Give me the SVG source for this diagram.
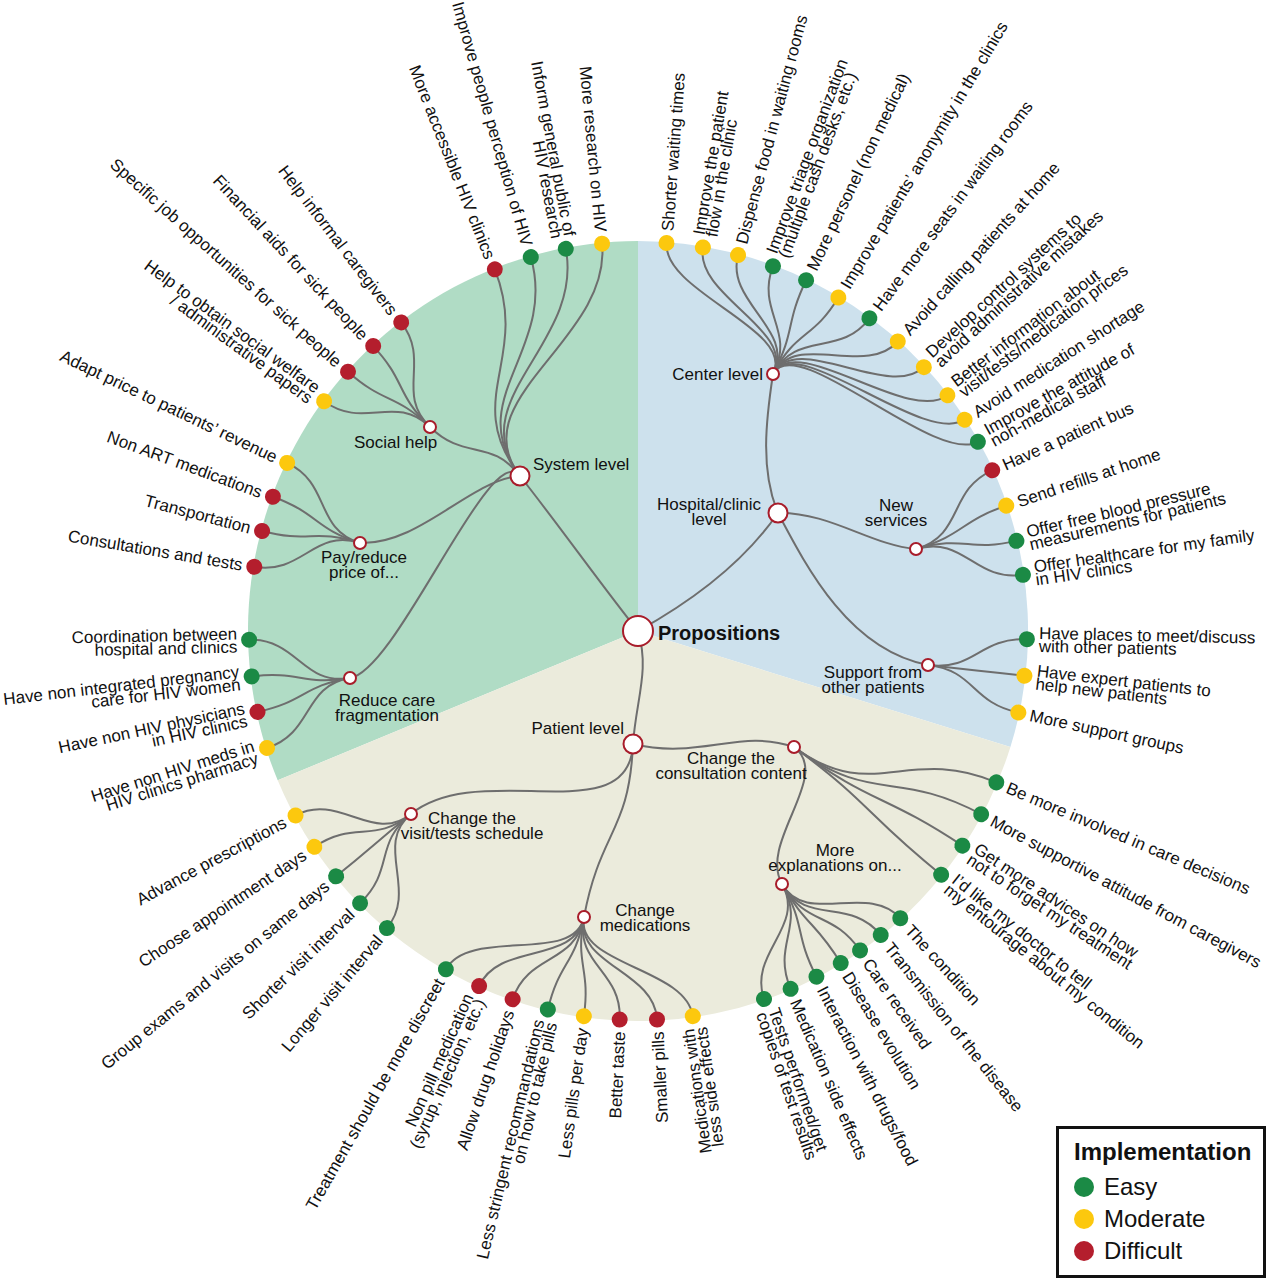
<svg xmlns="http://www.w3.org/2000/svg" width="1267" height="1280" viewBox="0 0 1267 1280">
<style>
text{font-family:"Liberation Sans",Arial,Helvetica,sans-serif;fill:#111}
.lf{font-size:17px}
.e{text-anchor:end}
.m{text-anchor:middle;font-size:17px}
.s{font-size:17px}
.g{fill:#1b8a45}
.y{fill:#fcc80e}
.r{fill:#b41e2d}
.hn{fill:#fff;stroke:#a81c2a;stroke-width:2}
#connectors path{fill:none;stroke:#6e6e6e;stroke-width:2}
</style>
<rect width="1267" height="1280" fill="#fff"/>
<g id="sectors">
<path d="M638,631 L638,241 A390,390 0 0,0 277.7,780.3 Z" fill="#b0dcc5"/>
<path d="M638,631 L638,241 A390,390 0 0,1 1010.4,747 Z" fill="#cde1ed"/>
<path d="M638,631 L1010.4,747 A390,390 0 0,1 277.7,780.3 Z" fill="#ebebdc"/>
</g>
<g id="connectors">
<path d="M638,631 C605,590 555,520 520,476"/>
<path d="M638,631 C685,605 742,565 778,513"/>
<path d="M638,631 C650,670 636,700 633,744"/>
<path d="M520,476 C490.7,437.7 464.4,461 430,427"/>
<path d="M520,476 C470,480 420,545 360,543"/>
<path d="M520,476 C490.5,437.4 397.8,670.3 350,678"/>
<path d="M778,513 C760,470 766,420 773,374"/>
<path d="M778,513 C830,512 870,545 916,549"/>
<path d="M778,513 C808,570 850,650 928,665"/>
<path d="M633,744 C700,760 740,728 794,747"/>
<path d="M633,744 C629.2,833.1 480.6,758 411,814"/>
<path d="M633,744 C629.2,832.8 600.5,829.5 584,917"/>
<path d="M794,747 C832.8,775.7 758.1,841.9 782,884"/>
<path d="M520,476 C461,398.7 611,340.3 602.1,243.7"/>
<path d="M520,476 C461,398.7 583.8,344.1 565.8,248.8"/>
<path d="M520,476 C461,398.7 557.5,350.3 530.8,257.1"/>
<path d="M520,476 C461,398.7 530.5,359.5 494.8,269.3"/>
<path d="M430,427 C395.1,393.1 431,361.2 401.2,322.4"/>
<path d="M430,427 C395.1,393.1 406.6,381.9 373.2,346.1"/>
<path d="M430,427 C395.1,393.1 384.5,404.4 348,371.7"/>
<path d="M430,427 C395.1,393.1 363.6,430.2 324.1,401.3"/>
<path d="M360,543 C313.9,528.2 331.4,484.1 287.2,462.9"/>
<path d="M360,543 C313.9,528.2 318.9,513.6 272.9,496.7"/>
<path d="M360,543 C313.9,528.2 309.4,543.6 262.1,531"/>
<path d="M360,543 C313.9,528.2 302.7,574.9 254.3,566.8"/>
<path d="M350,678 C302.5,685.9 298.1,638.7 249.1,639.8"/>
<path d="M350,678 C302.5,685.9 300.3,670.7 251.6,676.4"/>
<path d="M350,678 C302.5,685.9 305.4,701.7 257.5,711.9"/>
<path d="M350,678 C302.5,685.9 313.7,733.2 267,748"/>
<path d="M773,374 C796,330 662.9,291.9 666.5,243.1"/>
<path d="M773,374 C796,330 694.7,295.8 702.9,247.4"/>
<path d="M773,374 C796,330 725.4,302.4 738,255.1"/>
<path d="M773,374 C796,330 755.9,312.1 772.9,266.2"/>
<path d="M773,374 C796,330 784.9,324.4 806.1,280.2"/>
<path d="M773,374 C796,330 813.1,339.6 838.3,297.5"/>
<path d="M773,374 C796,330 840.2,357.7 869.4,318.3"/>
<path d="M773,374 C796,330 865,377.9 897.8,341.5"/>
<path d="M773,374 C796,330 887.9,400.4 923.9,367.2"/>
<path d="M773,374 C796,330 908.5,425 947.5,395.3"/>
<path d="M773,374 C796,330 923.5,446.3 964.6,419.7"/>
<path d="M773,374 C796,330 935.1,465.7 977.9,441.8"/>
<path d="M916,549 C964.2,535 947.6,490.5 992.3,470.3"/>
<path d="M916,549 C964.2,535 959.8,521.4 1006.2,505.6"/>
<path d="M916,549 C964.2,535 968.8,552.2 1016.4,540.9"/>
<path d="M916,549 C964.2,535 974.4,581.9 1022.9,574.8"/>
<path d="M928,665 C975.7,670.7 977.9,638.1 1026.9,639.1"/>
<path d="M928,665 C975.7,670.7 975.8,670.1 1024.4,675.7"/>
<path d="M928,665 C975.7,670.7 970.5,702.3 1018.4,712.5"/>
<path d="M794,747 C872.4,805.1 907,744.6 996.3,782.4"/>
<path d="M794,747 C872.4,805.1 895.6,768.5 981.1,814.2"/>
<path d="M794,747 C872.4,805.1 881.5,792.2 962.4,845.7"/>
<path d="M794,747 C872.4,805.1 865.6,814 941.1,874.7"/>
<path d="M782,884 C806.2,926.5 867.3,882.1 900.3,918.2"/>
<path d="M782,884 C806.2,926.5 850.1,896.7 880.7,935"/>
<path d="M782,884 C806.2,926.5 832,910.2 860,950.4"/>
<path d="M782,884 C806.2,926.5 815.1,921.2 840.7,963"/>
<path d="M782,884 C806.2,926.5 794,933.1 816.4,976.7"/>
<path d="M782,884 C806.2,926.5 771.4,943.7 790.6,988.8"/>
<path d="M782,884 C806.2,926.5 748.1,952.7 764,999"/>
<path d="M584,917 C574.9,965.1 685.9,967.6 692.8,1016.1"/>
<path d="M584,917 C574.9,965.1 654.6,970.6 657,1019.5"/>
<path d="M584,917 C574.9,965.1 622,970.6 619.7,1019.6"/>
<path d="M584,917 C574.9,965.1 590.7,967.7 583.9,1016.2"/>
<path d="M584,917 C574.9,965.1 559.2,961.8 547.9,1009.4"/>
<path d="M584,917 C574.9,965.1 528.4,952.8 512.6,999.2"/>
<path d="M584,917 C574.9,965.1 499.2,941.4 479.2,986.1"/>
<path d="M584,917 C574.9,965.1 470.1,926.6 445.9,969.2"/>
<path d="M411,814 C373.4,844.5 418.5,890.7 386.9,928.1"/>
<path d="M411,814 C373.4,844.5 395.1,868.9 360.1,903.2"/>
<path d="M411,814 C373.4,844.5 374.2,845.4 336.1,876.3"/>
<path d="M411,814 C373.4,844.5 355.1,819.6 314.4,846.8"/>
<path d="M411,814 C373.4,844.5 338.6,792.2 295.5,815.4"/>
</g>
<g id="hubs">
<g id="propositions"><circle class="hn" cx="638" cy="631" r="15" stroke-width="2.5"/><text x="658" y="640" font-size="20" font-weight="bold">Propositions</text></g>
<g id="system-level"><circle class="hn" cx="520" cy="476" r="9.5"/><text class="s" x="533" y="470">System level</text></g>
<g id="social-help"><circle class="hn" cx="430" cy="427" r="6"/><text class="s" x="354" y="448">Social help</text></g>
<g id="pay-reduce"><circle class="hn" cx="360" cy="543" r="6"/><text class="m"><tspan x="364" y="563">Pay/reduce</tspan><tspan x="364" y="578">price of...</tspan></text></g>
<g id="reduce-fragmentation"><circle class="hn" cx="350" cy="678" r="6"/><text class="m"><tspan x="387" y="706">Reduce care</tspan><tspan x="387" y="721">fragmentation</tspan></text></g>
<g id="hospital-level"><circle class="hn" cx="778" cy="513" r="9.5"/><text class="m"><tspan x="709" y="510">Hospital/clinic</tspan><tspan x="709" y="525">level</tspan></text></g>
<g id="center-level"><circle class="hn" cx="773" cy="374" r="6"/><text class="s e" x="763" y="380">Center level</text></g>
<g id="new-services"><circle class="hn" cx="916" cy="549" r="6"/><text class="m"><tspan x="896" y="511">New</tspan><tspan x="896" y="526">services</tspan></text></g>
<g id="support"><circle class="hn" cx="928" cy="665" r="6"/><text class="m"><tspan x="873" y="678">Support from</tspan><tspan x="873" y="693">other patients</tspan></text></g>
<g id="patient-level"><circle class="hn" cx="633" cy="744" r="9.5"/><text class="s e" x="624" y="734">Patient level</text></g>
<g id="consultation"><circle class="hn" cx="794" cy="747" r="6"/><text class="m"><tspan x="731" y="764">Change the</tspan><tspan x="731" y="779">consultation content</tspan></text></g>
<g id="explanations"><circle class="hn" cx="782" cy="884" r="6"/><text class="m"><tspan x="835" y="856">More</tspan><tspan x="835" y="871">explanations on...</tspan></text></g>
<g id="medications"><circle class="hn" cx="584" cy="917" r="6"/><text class="m"><tspan x="645" y="916">Change</tspan><tspan x="645" y="931">medications</tspan></text></g>
<g id="schedule"><circle class="hn" cx="411" cy="814" r="6"/><text class="m"><tspan x="472" y="824">Change the</tspan><tspan x="472" y="839">visit/tests schedule</tspan></text></g>
</g>
<g id="leaves">
<g id="n1" transform="rotate(84.7 638 631)"><circle class="y" cx="249" cy="631" r="8"/><text class="lf e" x="237" y="637">More research on HIV</text></g>
<g id="n2" transform="rotate(79.3 638 631)"><circle class="g" cx="249" cy="631" r="8"/><text class="lf e"><tspan x="237" y="630.5">Inform general public of</tspan><tspan x="237" y="643.5">HIV research</tspan></text></g>
<g id="n3" transform="rotate(74 638 631)"><circle class="g" cx="249" cy="631" r="8"/><text class="lf e" x="237" y="637">Improve people perception of HIV</text></g>
<g id="n4" transform="rotate(68.4 638 631)"><circle class="r" cx="249" cy="631" r="8"/><text class="lf e" x="237" y="637">More accessible HIV clinics</text></g>
<g id="n5" transform="rotate(52.5 638 631)"><circle class="r" cx="249" cy="631" r="8"/><text class="lf e" x="237" y="637">Help informal caregivers</text></g>
<g id="n6" transform="rotate(47.1 638 631)"><circle class="r" cx="249" cy="631" r="8"/><text class="lf e" x="237" y="637">Financial aids for sick people</text></g>
<g id="n7" transform="rotate(41.8 638 631)"><circle class="r" cx="249" cy="631" r="8"/><text class="lf e" x="237" y="637">Specific job opportunities for sick people</text></g>
<g id="n8" transform="rotate(36.2 638 631)"><circle class="y" cx="249" cy="631" r="8"/><text class="lf e"><tspan x="237" y="630.5">Help to obtain social welfare</tspan><tspan x="237" y="643.5">/ administrative papers</tspan></text></g>
<g id="n9" transform="rotate(25.6 638 631)"><circle class="y" cx="249" cy="631" r="8"/><text class="lf e" x="237" y="637">Adapt price to patients’ revenue</text></g>
<g id="n10" transform="rotate(20.2 638 631)"><circle class="r" cx="249" cy="631" r="8"/><text class="lf e" x="237" y="637">Non ART medications</text></g>
<g id="n11" transform="rotate(14.9 638 631)"><circle class="r" cx="249" cy="631" r="8"/><text class="lf e" x="237" y="637">Transportation</text></g>
<g id="n12" transform="rotate(9.5 638 631)"><circle class="r" cx="249" cy="631" r="8"/><text class="lf e" x="237" y="637">Consultations and tests</text></g>
<g id="n13" transform="rotate(-1.3 638 631)"><circle class="g" cx="249" cy="631" r="8"/><text class="lf e"><tspan x="237" y="630.5">Coordination between</tspan><tspan x="237" y="643.5">hospital and clinics</tspan></text></g>
<g id="n14" transform="rotate(-6.7 638 631)"><circle class="g" cx="249" cy="631" r="8"/><text class="lf e"><tspan x="237" y="630.5">Have non integrated pregnancy</tspan><tspan x="237" y="643.5">care for HIV women</tspan></text></g>
<g id="n15" transform="rotate(-12 638 631)"><circle class="r" cx="249" cy="631" r="8"/><text class="lf e"><tspan x="237" y="630.5">Have non HIV physicians</tspan><tspan x="237" y="643.5">in HIV clinics</tspan></text></g>
<g id="n16" transform="rotate(-17.5 638 631)"><circle class="y" cx="249" cy="631" r="8"/><text class="lf e"><tspan x="237" y="630.5">Have non HIV meds in</tspan><tspan x="237" y="643.5">HIV clinics pharmacy</tspan></text></g>
<g id="n17" transform="rotate(-85.8 638 631)"><circle class="y" cx="1027" cy="631" r="8"/><text class="lf" x="1039" y="637">Shorter waiting times</text></g>
<g id="n18" transform="rotate(-80.4 638 631)"><circle class="y" cx="1027" cy="631" r="8"/><text class="lf"><tspan x="1039" y="630.5">Improve the patient</tspan><tspan x="1039" y="643.5">flow in the clinic</tspan></text></g>
<g id="n19" transform="rotate(-75.1 638 631)"><circle class="y" cx="1027" cy="631" r="8"/><text class="lf" x="1039" y="637">Dispense food in waiting rooms</text></g>
<g id="n20" transform="rotate(-69.7 638 631)"><circle class="g" cx="1027" cy="631" r="8"/><text class="lf"><tspan x="1039" y="630.5">Improve triage organization</tspan><tspan x="1039" y="643.5">(multiple cash desks, etc.)</tspan></text></g>
<g id="n21" transform="rotate(-64.4 638 631)"><circle class="g" cx="1027" cy="631" r="8"/><text class="lf" x="1039" y="637">More personel (non medical)</text></g>
<g id="n22" transform="rotate(-59 638 631)"><circle class="y" cx="1027" cy="631" r="8"/><text class="lf" x="1039" y="637">Improve patients’ anonymity in the clinics</text></g>
<g id="n23" transform="rotate(-53.5 638 631)"><circle class="g" cx="1027" cy="631" r="8"/><text class="lf" x="1039" y="637">Have more seats in waiting rooms</text></g>
<g id="n24" transform="rotate(-48.1 638 631)"><circle class="y" cx="1027" cy="631" r="8"/><text class="lf" x="1039" y="637">Avoid calling patients at home</text></g>
<g id="n25" transform="rotate(-42.7 638 631)"><circle class="y" cx="1027" cy="631" r="8"/><text class="lf"><tspan x="1039" y="630.5">Develop control systems to</tspan><tspan x="1039" y="643.5">avoid administrative mistakes</tspan></text></g>
<g id="n26" transform="rotate(-37.3 638 631)"><circle class="y" cx="1027" cy="631" r="8"/><text class="lf"><tspan x="1039" y="630.5">Better information about</tspan><tspan x="1039" y="643.5">visit/tests/medication prices</tspan></text></g>
<g id="n27" transform="rotate(-32.9 638 631)"><circle class="y" cx="1027" cy="631" r="8"/><text class="lf" x="1039" y="637">Avoid medication shortage</text></g>
<g id="n28" transform="rotate(-29.1 638 631)"><circle class="g" cx="1027" cy="631" r="8"/><text class="lf"><tspan x="1039" y="630.5">Improve the attitude of</tspan><tspan x="1039" y="643.5">non-medical staff</tspan></text></g>
<g id="n29" transform="rotate(-24.4 638 631)"><circle class="r" cx="1027" cy="631" r="8"/><text class="lf" x="1039" y="637">Have a patient bus</text></g>
<g id="n30" transform="rotate(-18.8 638 631)"><circle class="y" cx="1027" cy="631" r="8"/><text class="lf" x="1039" y="637">Send refills at home</text></g>
<g id="n31" transform="rotate(-13.4 638 631)"><circle class="g" cx="1027" cy="631" r="8"/><text class="lf"><tspan x="1039" y="630.5">Offer free blood pressure</tspan><tspan x="1039" y="643.5">measurements for patients</tspan></text></g>
<g id="n32" transform="rotate(-8.3 638 631)"><circle class="g" cx="1027" cy="631" r="8"/><text class="lf"><tspan x="1039" y="630.5">Offer healthcare for my family</tspan><tspan x="1039" y="643.5">in HIV clinics</tspan></text></g>
<g id="n33" transform="rotate(1.2 638 631)"><circle class="g" cx="1027" cy="631" r="8"/><text class="lf"><tspan x="1039" y="630.5">Have places to meet/discuss</tspan><tspan x="1039" y="643.5">with other patients</tspan></text></g>
<g id="n34" transform="rotate(6.6 638 631)"><circle class="y" cx="1027" cy="631" r="8"/><text class="lf"><tspan x="1039" y="630.5">Have expert patients to</tspan><tspan x="1039" y="643.5">help new patients</tspan></text></g>
<g id="n35" transform="rotate(12.1 638 631)"><circle class="y" cx="1027" cy="631" r="8"/><text class="lf" x="1039" y="637">More support groups</text></g>
<g id="n36" transform="rotate(22.9 638 631)"><circle class="g" cx="1027" cy="631" r="8"/><text class="lf" x="1039" y="637">Be more involved in care decisions</text></g>
<g id="n37" transform="rotate(28.1 638 631)"><circle class="g" cx="1027" cy="631" r="8"/><text class="lf" x="1039" y="637">More supportive attitude from caregivers</text></g>
<g id="n38" transform="rotate(33.5 638 631)"><circle class="g" cx="1027" cy="631" r="8"/><text class="lf"><tspan x="1039" y="630.5">Get more advices on how</tspan><tspan x="1039" y="643.5">not to forget my treatment</tspan></text></g>
<g id="n39" transform="rotate(38.8 638 631)"><circle class="g" cx="1027" cy="631" r="8"/><text class="lf"><tspan x="1039" y="630.5">I’d like my doctor to tell</tspan><tspan x="1039" y="643.5">my entourage about my condition</tspan></text></g>
<g id="n40" transform="rotate(47.6 638 631)"><circle class="g" cx="1027" cy="631" r="8"/><text class="lf" x="1039" y="637">The condition</text></g>
<g id="n41" transform="rotate(51.4 638 631)"><circle class="g" cx="1027" cy="631" r="8"/><text class="lf" x="1039" y="637">Transmission of the disease</text></g>
<g id="n42" transform="rotate(55.2 638 631)"><circle class="g" cx="1027" cy="631" r="8"/><text class="lf" x="1039" y="637">Care received</text></g>
<g id="n43" transform="rotate(58.6 638 631)"><circle class="g" cx="1027" cy="631" r="8"/><text class="lf" x="1039" y="637">Disease evolution</text></g>
<g id="n44" transform="rotate(62.7 638 631)"><circle class="g" cx="1027" cy="631" r="8"/><text class="lf" x="1039" y="637">Interaction with drugs/food</text></g>
<g id="n45" transform="rotate(66.9 638 631)"><circle class="g" cx="1027" cy="631" r="8"/><text class="lf" x="1039" y="637">Medication side effects</text></g>
<g id="n46" transform="rotate(71.1 638 631)"><circle class="g" cx="1027" cy="631" r="8"/><text class="lf"><tspan x="1039" y="630.5">Tests performed/get</tspan><tspan x="1039" y="643.5">copies of test results</tspan></text></g>
<g id="n47" transform="rotate(-98.1 638 631)"><circle class="y" cx="249" cy="631" r="8"/><text class="lf e"><tspan x="237" y="630.5">Medications with</tspan><tspan x="237" y="643.5">less side effects</tspan></text></g>
<g id="n48" transform="rotate(-92.8 638 631)"><circle class="r" cx="249" cy="631" r="8"/><text class="lf e" x="237" y="637">Smaller pills</text></g>
<g id="n49" transform="rotate(-87.3 638 631)"><circle class="r" cx="249" cy="631" r="8"/><text class="lf e" x="237" y="637">Better taste</text></g>
<g id="n50" transform="rotate(-82 638 631)"><circle class="y" cx="249" cy="631" r="8"/><text class="lf e" x="237" y="637">Less pills per day</text></g>
<g id="n51" transform="rotate(-76.6 638 631)"><circle class="g" cx="249" cy="631" r="8"/><text class="lf e"><tspan x="237" y="630.5">Less stringent recommandations</tspan><tspan x="237" y="643.5">on how to take pills</tspan></text></g>
<g id="n52" transform="rotate(-71.2 638 631)"><circle class="r" cx="249" cy="631" r="8"/><text class="lf e" x="237" y="637">Allow drug holidays</text></g>
<g id="n53" transform="rotate(-65.9 638 631)"><circle class="r" cx="249" cy="631" r="8"/><text class="lf e"><tspan x="237" y="630.5">Non pill medication</tspan><tspan x="237" y="643.5">(syrup, injection, etc.)</tspan></text></g>
<g id="n54" transform="rotate(-60.4 638 631)"><circle class="g" cx="249" cy="631" r="8"/><text class="lf e" x="237" y="637">Treatment should be more discreet</text></g>
<g id="n55" transform="rotate(-49.8 638 631)"><circle class="g" cx="249" cy="631" r="8"/><text class="lf e" x="237" y="637">Longer visit interval</text></g>
<g id="n56" transform="rotate(-44.4 638 631)"><circle class="g" cx="249" cy="631" r="8"/><text class="lf e" x="237" y="637">Shorter visit interval</text></g>
<g id="n57" transform="rotate(-39.1 638 631)"><circle class="g" cx="249" cy="631" r="8"/><text class="lf e" x="237" y="637">Group exams and visits on same days</text></g>
<g id="n58" transform="rotate(-33.7 638 631)"><circle class="y" cx="249" cy="631" r="8"/><text class="lf e" x="237" y="637">Choose appointment days</text></g>
<g id="n59" transform="rotate(-28.3 638 631)"><circle class="y" cx="249" cy="631" r="8"/><text class="lf e" x="237" y="637">Advance prescriptions</text></g>
</g>
<g id="legend">
<rect x="1057.5" y="1127.5" width="207" height="149" fill="#fff" stroke="#111" stroke-width="3"/>
<text x="1074" y="1160" font-size="24" font-weight="bold">Implementation</text>
<circle class="g" cx="1084" cy="1187" r="10"/><text x="1104" y="1195" font-size="24">Easy</text>
<circle class="y" cx="1084" cy="1219" r="10"/><text x="1104" y="1227" font-size="24">Moderate</text>
<circle class="r" cx="1084" cy="1251" r="10"/><text x="1104" y="1259" font-size="24">Difficult</text>
</g>
</svg>
